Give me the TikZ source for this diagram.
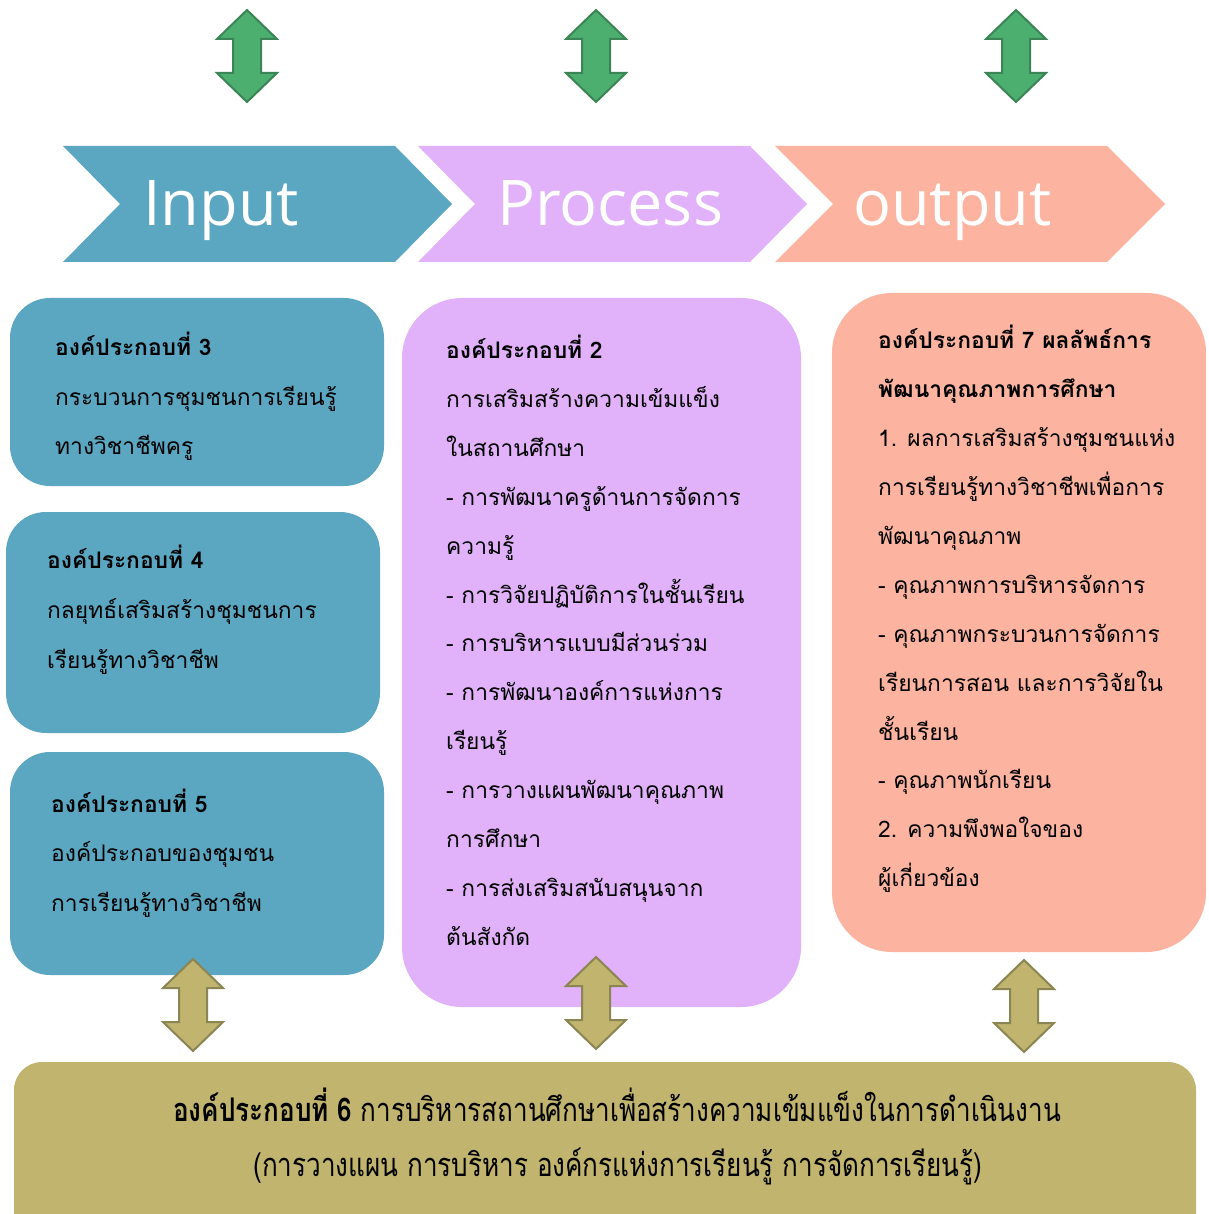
\documentclass[tikz,border=0pt]{standalone}
\usepackage{fontspec}
\setmainfont[Script=Thai]{Loma}
\newfontfamily\headfont{Open Sans}
\newfontfamily\condfont[Script=Thai,FakeStretch=0.8]{Loma}
\definecolor{cblue}{RGB}{91,166,193}
\definecolor{cpurple}{RGB}{225,178,249}
\definecolor{csalmon}{RGB}{252,180,160}
\definecolor{colive}{RGB}{192,180,110}
\definecolor{colivedark}{RGB}{139,132,83}
\definecolor{cgreen}{RGB}{77,175,111}
\definecolor{cgreendark}{RGB}{59,132,85}
\tikzset{
  headtxt/.style={anchor=base west, text=white, font=\headfont\fontsize{63}{70}\selectfont, inner sep=0pt},
  bodytxt/.style={anchor=base west, font=\fontsize{22.8}{28}\selectfont, inner sep=0pt},
  boldtxt/.style={bodytxt, font=\bfseries\fontsize{22.8}{28}\selectfont},
  greenarrow/.style={fill=cgreen, draw=cgreendark, line width=2pt, line join=miter},
  olivearrow/.style={fill=colive, draw=colivedark, line width=2pt, line join=miter},
}
\newcommand{\dblarrow}[3]{% x, y, style
  \path[#3] (#1,#2-46) -- (#1+30,#2-17) -- (#1+14,#2-17) -- (#1+14,#2+17) -- (#1+30,#2+17)
    -- (#1,#2+46) -- (#1-30,#2+17) -- (#1-14,#2+17) -- (#1-14,#2-17) -- (#1-30,#2-17) -- cycle;}
\begin{document}
\begin{tikzpicture}[x=1pt,y=-1pt]
\useasboundingbox (0,0) rectangle (1208,1214);
% top arrows
\dblarrow{247}{56}{greenarrow}
\dblarrow{596}{56}{greenarrow}
\dblarrow{1016}{56}{greenarrow}
% chevrons
\fill[cblue] (63,146) -- (395,146) -- (452,204) -- (395,262) -- (63,262) -- (120,204) -- cycle;
\fill[cpurple] (418,146) -- (750,146) -- (807,204) -- (750,262) -- (418,262) -- (475,204) -- cycle;
\fill[csalmon] (775,146) -- (1107,146) -- (1165,204) -- (1107,262) -- (775,262) -- (833,204) -- cycle;
\node[headtxt] (tin) at (143,226) {Input};
\node[headtxt] (tpr) at (497,226) {Process};
\node[headtxt] (tout) at (853,226) {output};
% boxes
\fill[cblue, rounded corners=40pt] (10,298) rectangle (384,486);
\fill[cblue, rounded corners=40pt] (6,512) rectangle (380,733);
\fill[cblue, rounded corners=40pt] (10,752) rectangle (384,975);
\fill[cpurple, rounded corners=60pt] (402,298) rectangle (801,1007);
\fill[csalmon, rounded corners=60pt] (832,293) rectangle (1206,952);
\fill[colive, rounded corners=28pt] (14,1062) rectangle (1196,1250);
% bottom arrows
\dblarrow{193}{1005}{olivearrow}
\dblarrow{596}{1003}{olivearrow}
\dblarrow{1024}{1006}{olivearrow}
% box 3
\node[boldtxt] (b3a) at (55,355) {องค์ประกอบที่ 3};
\node[bodytxt] (b3b) at (55,405) {กระบวนการชุมชนการเรียนรู้};
\node[bodytxt] (b3c) at (55,454) {ทางวิชาชีพครู};
% box 4
\node[boldtxt] (b4a) at (47,568) {องค์ประกอบที่ 4};
\node[bodytxt] (b4b) at (47,618) {กลยุทธ์เสริมสร้างชุมชนการ};
\node[bodytxt] (b4c) at (47,668) {เรียนรู้ทางวิชาชีพ};
% box 5
\node[boldtxt] (b5a) at (51,812) {องค์ประกอบที่ 5};
\node[bodytxt] (b5b) at (51,861) {องค์ประกอบของชุมชน};
\node[bodytxt] (b5c) at (51,911) {การเรียนรู้ทางวิชาชีพ};
% box 2
\node[boldtxt] (b2l0) at (446,358) {องค์ประกอบที่ 2};
\node[bodytxt] (b2l1) at (446,407) {การเสริมสร้างความเข้มแข็ง};
\node[bodytxt] (b2l2) at (446,456) {ในสถานศึกษา};
\node[bodytxt] (b2l3) at (446,505) {- การพัฒนาครูด้านการจัดการ};
\node[bodytxt] (b2l4) at (446,554) {ความรู้};
\node[bodytxt] (b2l5) at (446,603) {- การวิจัยปฏิบัติการในชั้นเรียน};
\node[bodytxt] (b2l6) at (446,651) {- การบริหารแบบมีส่วนร่วม};
\node[bodytxt] (b2l7) at (446,700) {- การพัฒนาองค์การแห่งการ};
\node[bodytxt] (b2l8) at (446,749) {เรียนรู้};
\node[bodytxt] (b2l9) at (446,798) {- การวางแผนพัฒนาคุณภาพ};
\node[bodytxt] (b2l10) at (446,847) {การศึกษา};
\node[bodytxt] (b2l11) at (446,896) {- การส่งเสริมสนับสนุนจาก};
\node[bodytxt] (b2l12) at (446,945) {ต้นสังกัด};
% box 7
\node[boldtxt] (b7l0) at (878,348) {องค์ประกอบที่ 7 ผลลัพธ์การ};
\node[boldtxt] (b7l1) at (878,397) {พัฒนาคุณภาพการศึกษา};
\node[bodytxt] (b7l2) at (878,446) {1. ผลการเสริมสร้างชุมชนแห่ง};
\node[bodytxt] (b7l3) at (878,495) {การเรียนรู้ทางวิชาชีพเพื่อการ};
\node[bodytxt] (b7l4) at (878,544) {พัฒนาคุณภาพ};
\node[bodytxt] (b7l5) at (878,593) {- คุณภาพการบริหารจัดการ};
\node[bodytxt] (b7l6) at (878,642) {- คุณภาพกระบวนการจัดการ};
\node[bodytxt] (b7l7) at (878,691) {เรียนการสอน และการวิจัยใน};
\node[bodytxt] (b7l8) at (878,740) {ชั้นเรียน};
\node[bodytxt] (b7l9) at (878,788) {- คุณภาพนักเรียน};
\node[bodytxt] (b7l10) at (878,837) {2. ความพึงพอใจของ};
\node[bodytxt] (b7l11) at (878,886) {ผู้เกี่ยวข้อง};
% box 6
\node[anchor=base, inner sep=0pt, font=\condfont\fontsize{32.6}{36}\selectfont] (b6a) at (617,1121) {{\bfseries องค์ประกอบที่ 6} การบริหารสถานศึกษาเพื่อสร้างความเข้มแข็งในการดำเนินงาน};
\node[anchor=base, inner sep=0pt, font=\condfont\fontsize{32.6}{36}\selectfont] (b6b) at (618,1176) {(การวางแผน การบริหาร องค์กรแห่งการเรียนรู้ การจัดการเรียนรู้)};
\end{tikzpicture}
\end{document}
